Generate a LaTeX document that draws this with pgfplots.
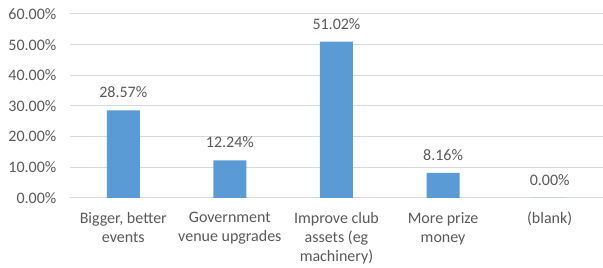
\documentclass[border=0pt]{standalone}
\usepackage{pgfplots}
\pgfplotsset{compat=1.18}
\usepackage{fontspec}
\setmainfont{Carlito}
\definecolor{barblue}{HTML}{5B9BD5}
\definecolor{txtgray}{HTML}{595959}
\definecolor{gridgray}{HTML}{D9D9D9}
\begin{document}
\fontsize{12}{14.25}\selectfont
\begin{tikzpicture}
\path[use as bounding box] (-52.5pt,-52.5pt) rectangle (400pt,148.5pt);
\begin{axis}[
  anchor=south west, at={(0,0)},
  scale only axis, width=400pt, height=138pt,
  ybar, bar width=24.75pt,
  xmin=-0.5, xmax=4.5, ymin=0, ymax=60,
  ytick={0,10,...,60},
  yticklabel={\pgfmathprintnumber[fixed,fixed zerofill,precision=2]{\tick}\%},
  /pgf/number format/assume math mode=true,
  xtick=data,
  xticklabels={{Bigger, better\\events},{Government\\venue upgrades},{Improve club\\assets (eg\\machinery)},{More prize\\money},{(blank)}},
  xticklabel style={align=center, text=txtgray, font=\fontsize{12}{14.25}\selectfont, yshift=-6.5pt},
  yticklabel style={text=txtgray, font=\fontsize{12}{14.25}\selectfont, xshift=-6pt},
  ymajorgrids, grid style={gridgray, line width=0.75pt},
  axis x line*=bottom, axis y line*=left,
  x axis line style={gridgray, line width=0.75pt, -},
  y axis line style={draw=none},
  major tick length=0pt,
  nodes near coords={\pgfmathprintnumber[fixed,fixed zerofill,precision=2]{\pgfplotspointmeta}\%},
  nodes near coords style={text=txtgray, font=\fontsize{12}{14.25}\selectfont, /pgf/number format/assume math mode=true, yshift=5pt},
  point meta=explicit,
]
\addplot[fill=barblue, draw=none] coordinates {(0,28.57)[28.57] (1,12.24)[12.24] (2,51.02)[51.02] (3,8.16)[8.16] (4,0)[0]};
\end{axis}
\end{tikzpicture}
\end{document}
